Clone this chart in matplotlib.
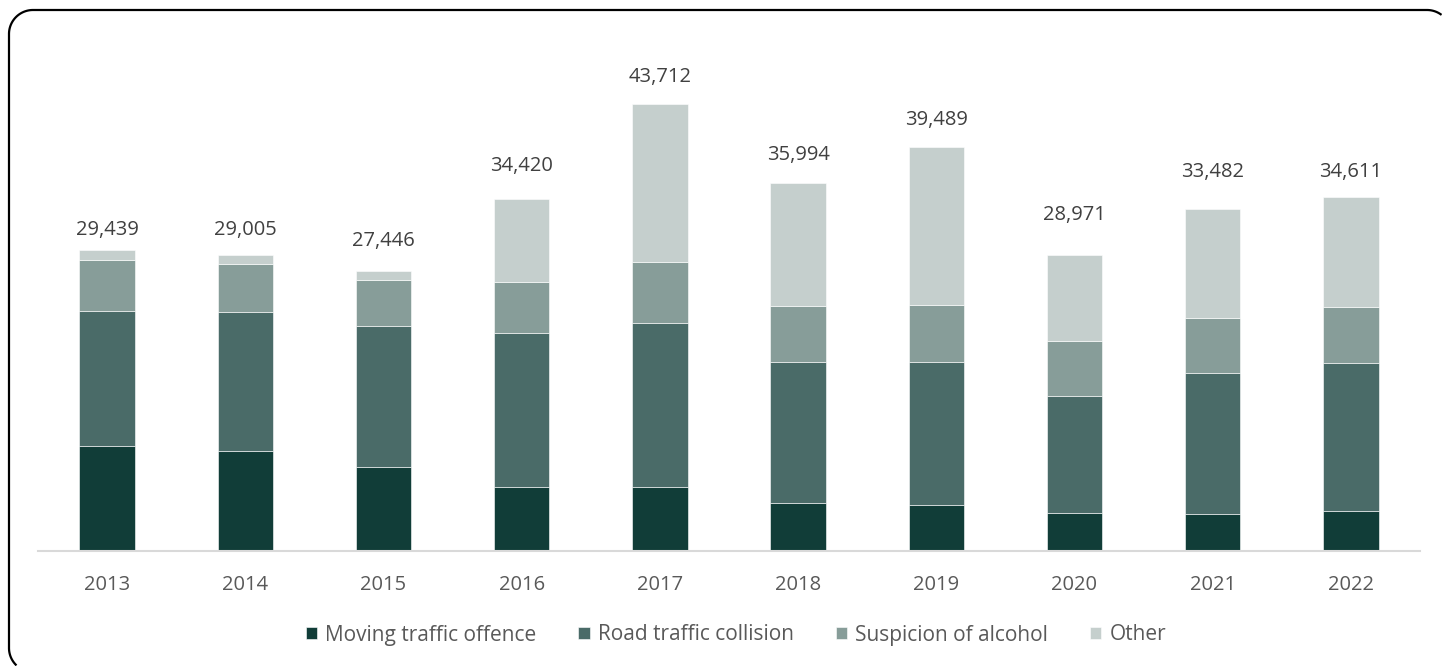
import matplotlib.pyplot as plt
import numpy as np
from matplotlib.lines import Line2D

years = ["2013", "2014", "2015", "2016", "2017", "2018", "2019", "2020", "2021", "2022"]
moving = [10300, 9810, 8250, 6300, 6260, 4650, 4480, 3760, 3660, 3880]
collision = [13170, 13560, 13790, 15000, 16010, 13800, 14000, 11380, 13720, 14500]
alcohol = [4960, 4720, 4500, 5060, 5970, 5550, 5550, 5400, 5420, 5530]
other = [1009, 915, 906, 8060, 15472, 11994, 15459, 8431, 10682, 10701]
totals = [29439, 29005, 27446, 34420, 43712, 35994, 39489, 28971, 33482, 34611]

series = [("Moving traffic offence", moving, "#113d38"),
          ("Road traffic collision", collision, "#4a6b68"),
          ("Suspicion of alcohol", alcohol, "#879d99"),
          ("Other", other, "#c5cfcd")]

# label lift above each bar top (px), the original isn't uniform
lift = [20, 25, 30, 33, 27, 28, 27, 40, 37, 25]

plt.rcParams['font.family'] = ['Open Sans', 'DejaVu Sans']

fig = plt.figure(figsize=(14.42, 6.66), dpi=100)
ax = fig.add_axes([38 / 1442, 115 / 666, 1382 / 1442, 511 / 666])

x = np.arange(len(years))
bottom = np.zeros(len(years))
for name, vals, col in series:
    ax.bar(x, vals, 0.4, bottom=bottom, color=col, label=name,
           edgecolor="white", linewidth=0.4)
    bottom += np.array(vals)

for xi, t, d in zip(x, totals, lift):
    ax.annotate(f"{t:,}", (xi, t), xytext=(0, d * 0.72), textcoords="offset points",
                ha="center", va="center", fontsize=14.5, color="#404040")

ax.set_xlim(-0.5, 9.5)
ax.set_ylim(0, 50000)
ax.set_xticks(x)
ax.set_xticklabels(years)
ax.tick_params(axis="x", length=0, pad=17, labelsize=14.5, labelcolor="#595959")
ax.set_yticks([])
for s in ["top", "right", "left"]:
    ax.spines[s].set_visible(False)
ax.spines["bottom"].set_color("#d9d9d9")
ax.spines["bottom"].set_linewidth(1.5)

fig.legend(loc="center", bbox_to_anchor=(736 / 1442, 1 - 635 / 666), ncol=4,
           frameon=False, fontsize=15, handlelength=0.55, handleheight=0.55,
           handletextpad=0.4, columnspacing=2.0, labelcolor="#595959")


# rounded outer frame (px from bottom-left); cut where it leaves the canvas
def arc(cx, cy, r, a0, a1):
    a = np.radians(np.linspace(a0, a1, 40))
    return cx + r * np.cos(a), cy + r * np.sin(a)


x0, x1, yb, yt, r = 9, 1451, -6, 656, 24
parts = [arc(x0 + r, yb + r, r, 270, 180),
         arc(x0 + r, yt - r, r, 180, 90),
         arc(x1 - r, yt - r, r, 90, 0)]
fx = np.concatenate([p[0] for p in parts])
fy = np.concatenate([p[1] for p in parts])
keep = (fx <= 1441) & (fy >= 1)
frame = Line2D(fx[keep] / 100, fy[keep] / 100, transform=fig.dpi_scale_trans,
               color="black", linewidth=1.6, solid_joinstyle="round")
frame.set_in_layout(False)
fig.add_artist(frame)

fig.savefig("out.png", dpi=100)
